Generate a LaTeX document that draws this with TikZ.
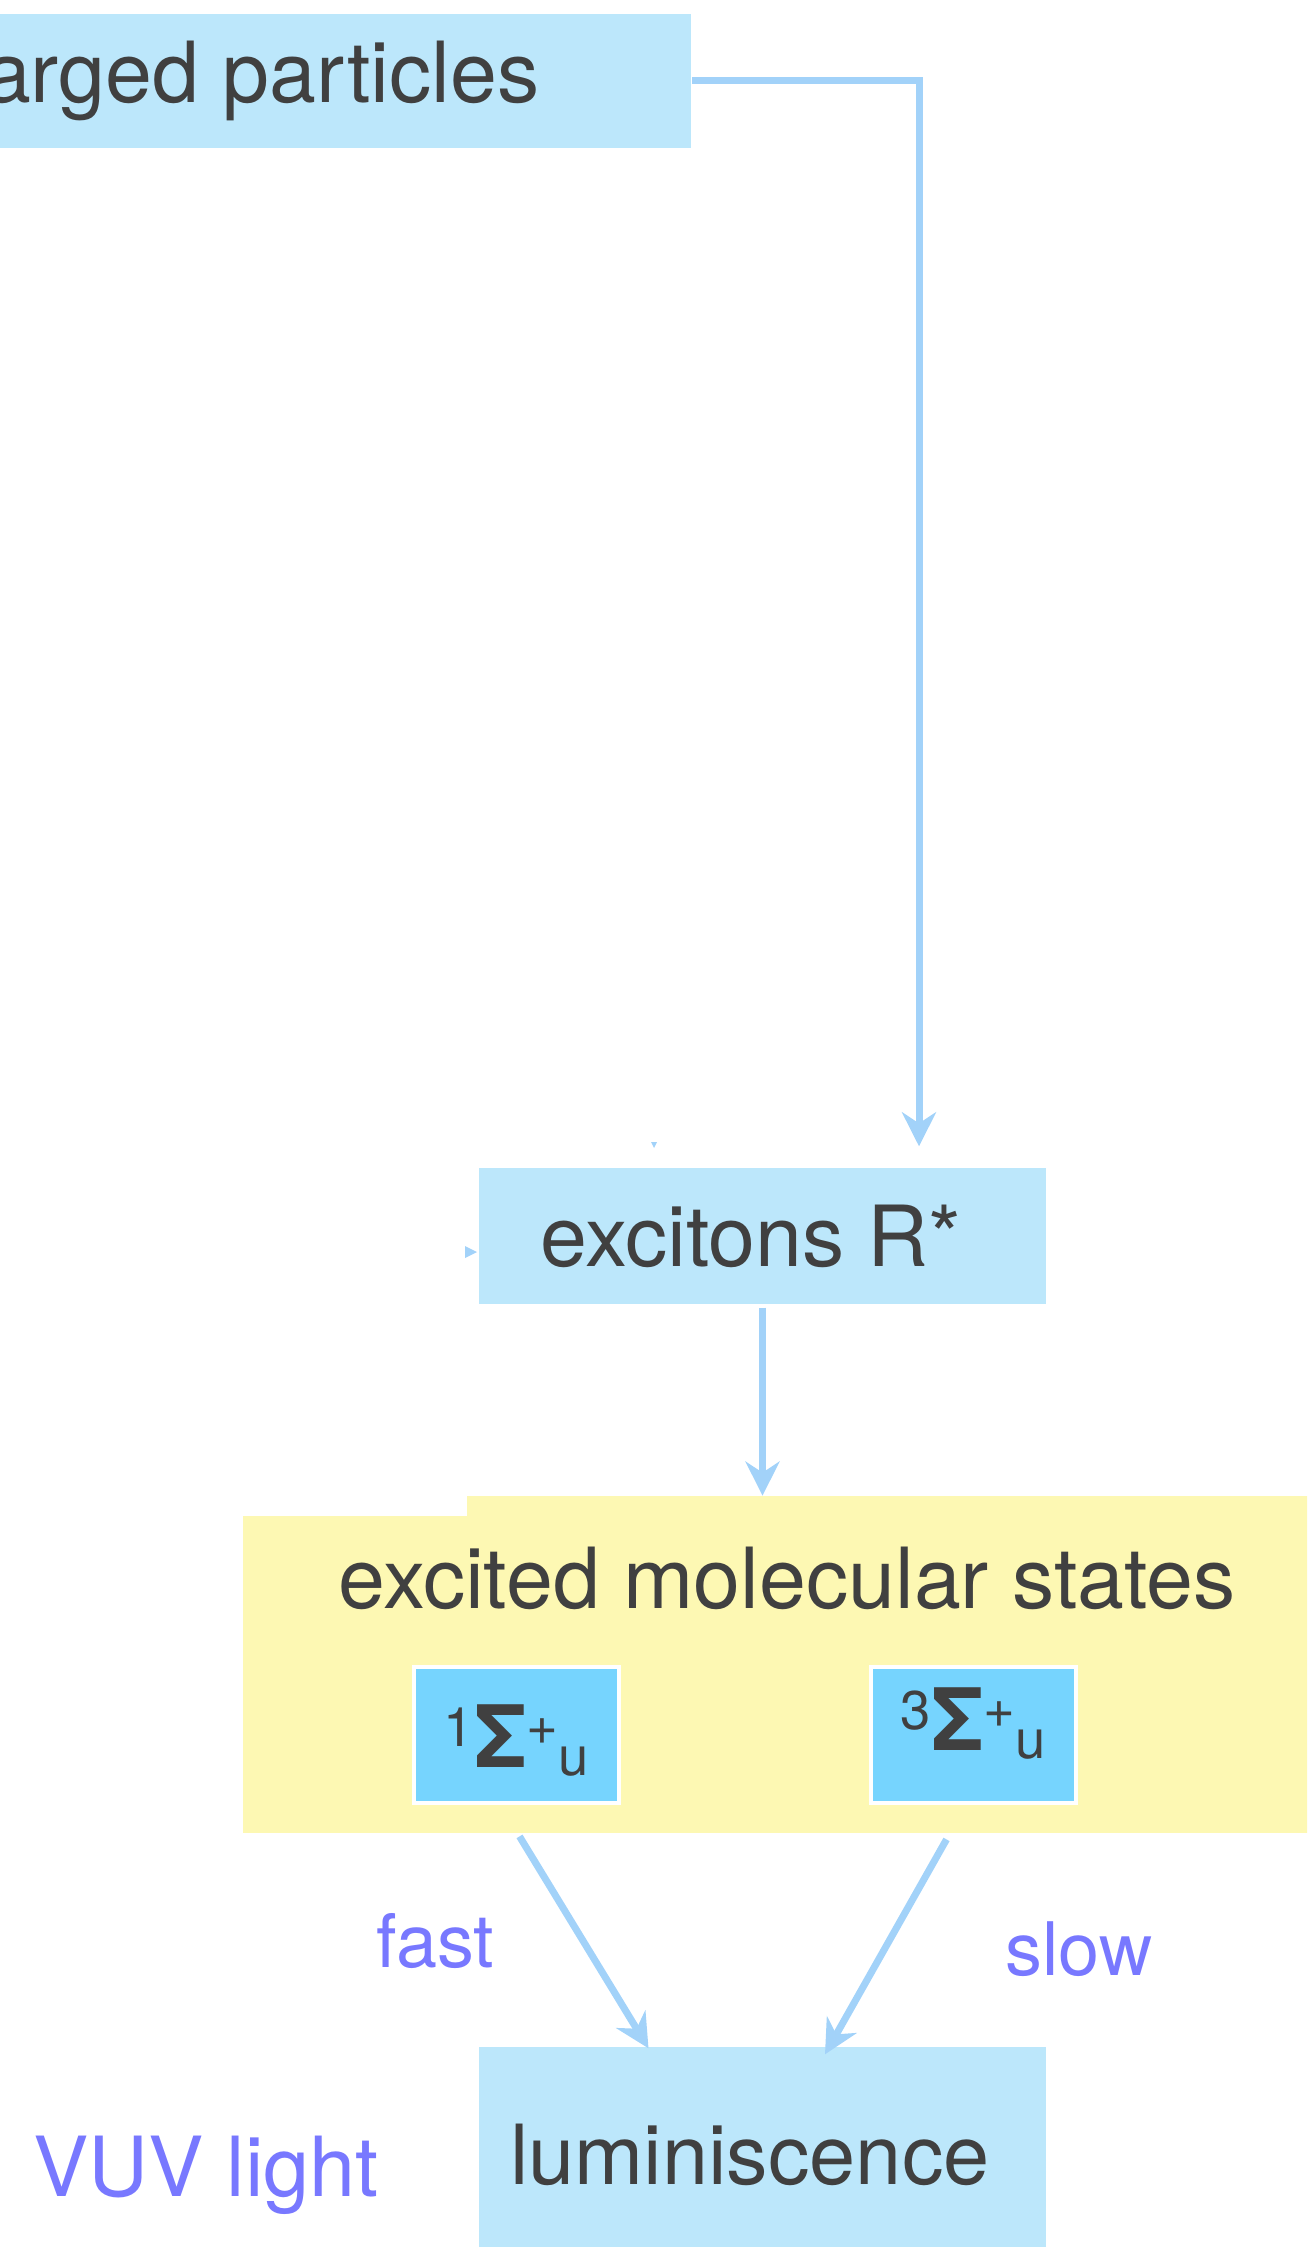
\documentclass[tikz,border=0pt]{standalone}
\usepackage{fontspec}
\setmainfont{TeX Gyre Heros}
\usepackage{xcolor}
\definecolor{lumText}{HTML}{404040}
\definecolor{lumBox}{HTML}{BCE7FB}
\definecolor{lumArrow}{HTML}{A2D2F9}
\definecolor{lumYellow}{HTML}{FDF8B3}
\definecolor{lumState}{HTML}{76D4FE}
\definecolor{lumLabel}{HTML}{7878FF}
\usepackage{tikz}
\usetikzlibrary{arrows.meta,calc}
\newcommand{\smallsup}[1]{{\fontsize{15.5}{15.5}\selectfont #1}}
\newcommand{\sigmaterm}[1]{\raisebox{5.7pt}{\smallsup{#1}}\textbf{Σ}\raisebox{6.5pt}{\smallsup{+}}\raisebox{-2.4pt}{\smallsup{u}}}
\tikzset{
    caption/.style={
        rectangle,
        inner sep=0pt,
        align=center,
        text=lumText,
        font=\fontsize{24}{28}\selectfont
    },
    box/.style={
        caption,
        fill=lumBox
    },
    yellowbox/.style={
        rectangle,
        fill=lumYellow,
        inner sep=0pt
    },
    state/.style={
        rectangle,
        fill=lumState,
        draw=white,
        line width=1pt,
        minimum width=2.05cm,
        minimum height=1.36cm,
        inner sep=0pt,
        text=lumText,
        font=\fontsize{24.5}{28}\selectfont
    },
    arrow/.style={
        -{Stealth[length=3.4mm,width=3.4mm]},
        line width=2pt,
        color=lumArrow
    },
    ratelabel/.style={
        inner sep=0pt,
        text=lumLabel,
        font=\fontsize{21}{24}\selectfont
    }
}
\begin{document}
\begin{tikzpicture}
    \useasboundingbox (0,0) rectangle (13.07,-22.47);
    \clip (0,0) rectangle (13.07,-22.47);

    % Source - cut by the left edge
    \node[box, anchor=east, minimum height=1.34cm, inner xsep=1.52cm] (part) at (6.92,-0.81) {charged particles};

    % Excitons
    \node[box, minimum width=5.67cm, minimum height=1.36cm] (exc) at (7.625,-12.36) {excitons R*\hspace{0.23cm}};

    % Excited molecular states
    \node[yellowbox, anchor=north west, minimum width=10.9cm, minimum height=3.17cm] (states) at (2.42,-15.15) {};
    \node[yellowbox, anchor=south west, minimum width=8.6cm, minimum height=0.2cm] (notch) at (4.66,-15.17) {};
    \node[caption, anchor=base] (title) at (7.87,-16.08) {excited molecular states};
    \node[state, text height=0.64cm, text depth=0cm] (s1) at (5.165,-17.35) {\sigmaterm{1}};
    \node[state, text height=0.30cm, text depth=0cm] (s2) at (9.735,-17.35) {\sigmaterm{3}};

    % Luminiscence
    \node[box, minimum width=5.67cm, minimum height=2.16cm, font=\fontsize{23.6}{27}\selectfont] (lum) at (7.625,-21.55) {luminiscence\hspace{0.25cm}};

    % Labels
    \node[ratelabel, anchor=base] (fast) at (4.355,-19.67) {fast};
    \node[ratelabel, anchor=base] (slow) at (10.79,-19.75) {slow};
    \node[ratelabel, anchor=base, font=\fontsize{23.6}{28}\selectfont] (vuv) at (2.06,-21.96) {VUV light};

    % Connections
    \coordinate (bend) at (9.19,-0.81);
    \draw[arrow, shorten >=0.21cm] (part.east) -- (bend) -- (bend |- exc.north);
    \draw[arrow] ([yshift=-0.03cm]exc.south) -- (exc.south |- notch.north);
    \draw[arrow] ($(s1.south |- states.south)+(0.03,-0.03)$) -- ($(lum.north)+(-1.14,-0.02)$);
    \draw[arrow] ($(s2.south |- states.south)+(-0.27,-0.06)$) -- ($(lum.north)+(0.625,-0.08)$);

    % stray tips
    \fill[lumArrow] (6.51,-11.42) -- (6.57,-11.42) -- (6.54,-11.48) -- cycle;
    \fill[lumArrow] (4.65,-12.46) -- (4.77,-12.52) -- (4.65,-12.58) -- cycle;
\end{tikzpicture}
\end{document}
